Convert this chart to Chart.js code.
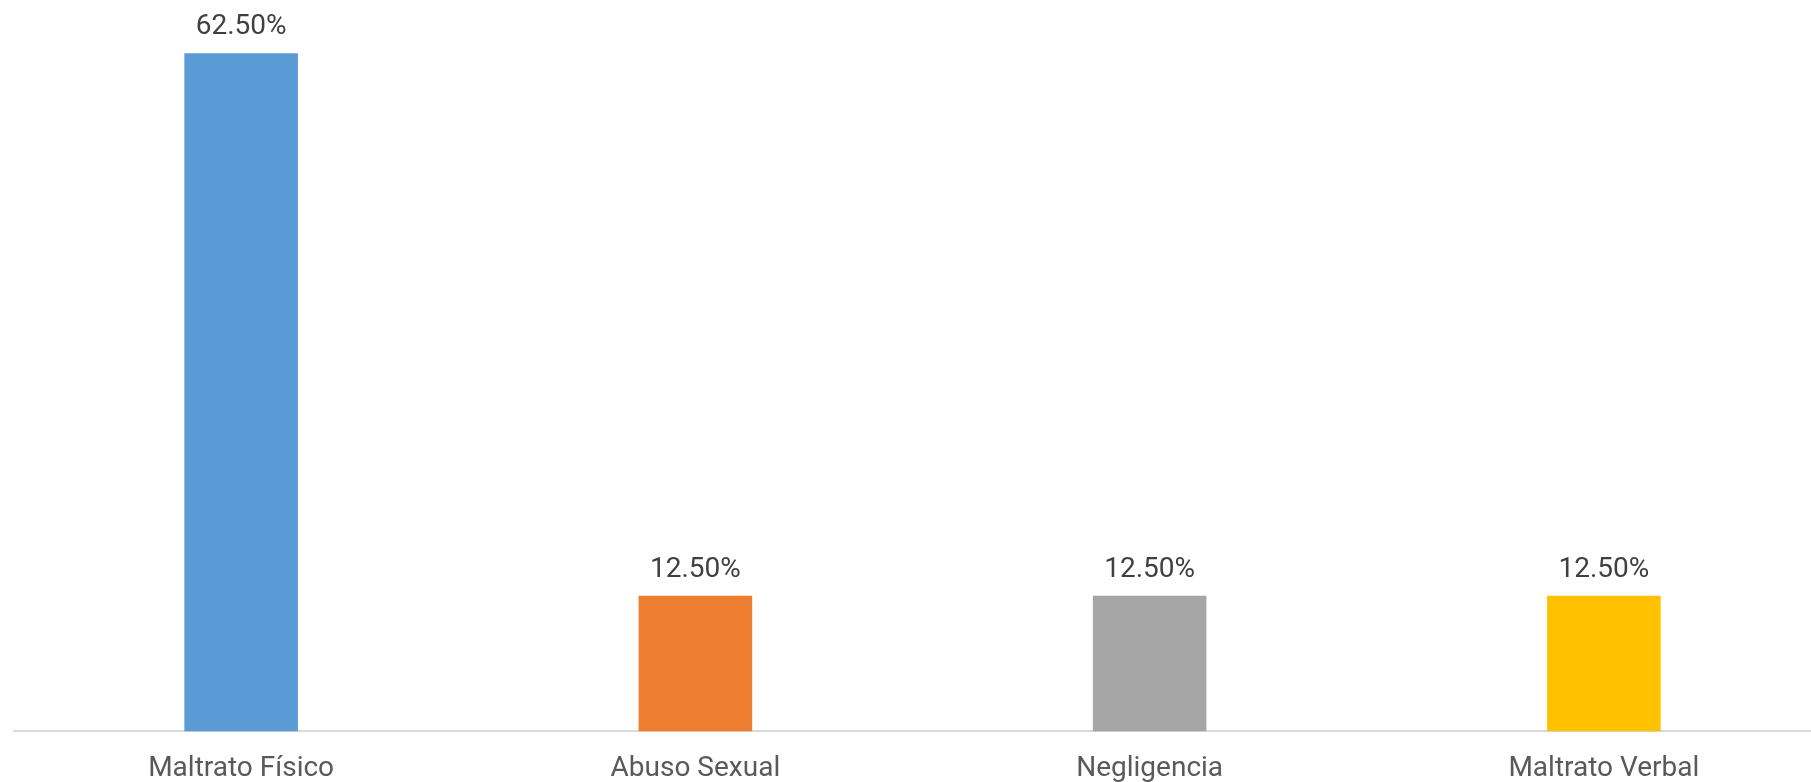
<!DOCTYPE html>
<html>
<head>
<meta charset="utf-8">
<script src="https://cdn.jsdelivr.net/npm/chart.js@4"></script>
<style>
    body { margin: 0; overflow: hidden; background: #fff; }
</style>
</head>
<body>
<canvas id="chart" width="1831" height="807"></canvas>
<script>
const categories = ['Maltrato Físico', 'Abuso Sexual', 'Negligencia', 'Maltrato Verbal'];
const values = [62.5, 12.5, 12.5, 12.5];
const barColors = ['#5B9BD5', '#ED7D31', '#A5A5A5', '#FFC000'];

// Draw the value above every bar
const valueLabels = {
    id: 'valueLabels',
    afterDatasetsDraw(chart) {
        const ctx = chart.ctx;
        const meta = chart.getDatasetMeta(0);
        ctx.save();
        ctx.font = '28px Roboto';
        ctx.fillStyle = '#404040';
        ctx.textAlign = 'center';
        ctx.textBaseline = 'alphabetic';
        meta.data.forEach((bar, i) => {
            ctx.fillText(values[i].toFixed(2) + '%', bar.x, bar.y - 19);
        });
        ctx.restore();
    }
};

const ctx = document.getElementById('chart').getContext('2d');
new Chart(ctx, {
    type: 'bar',
    data: {
        labels: categories,
        datasets: [{
            data: values,
            backgroundColor: barColors,
            barPercentage: 0.25,
            categoryPercentage: 1
        }]
    },
    options: {
        responsive: false,
        animation: false,
        layout: { padding: { left: 14, top: 0, right: 0, bottom: 0 } },
        plugins: {
            legend: { display: false },
            tooltip: { enabled: false }
        },
        scales: {
            x: {
                grid: { display: false, drawTicks: false, tickLength: 0 },
                border: { display: true, color: '#D9D9D9', width: 2 },
                ticks: {
                    color: '#595959',
                    padding: 21,
                    font: { family: 'Roboto', size: 28 }
                }
            },
            y: {
                display: false,
                min: 0,
                max: 67.4
            }
        }
    },
    plugins: [valueLabels]
});
</script>
</body>
</html>
